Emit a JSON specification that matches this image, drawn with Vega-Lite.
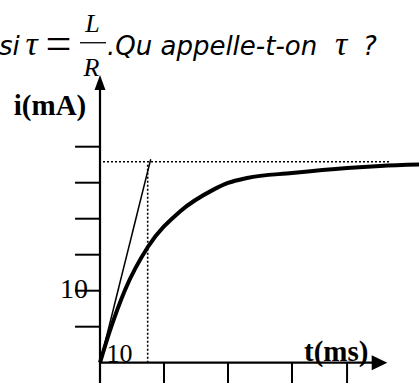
{
  "$schema": "https://vega.github.io/schema/vega-lite/v6.json",
  "width": 419,
  "height": 383,
  "padding": 0,
  "autosize": {"type": "none"},
  "background": "white",
  "config": {"view": {"stroke": null}},
  "datasets": {
    "segments": [
      {"kind": "axis", "t": 0, "i": -3, "t2": 0, "i2": 38.5},
      {"kind": "axis", "t": 0, "i": 0, "t2": 42.8, "i2": 0},
      {"kind": "tick", "t": -3.9, "i": 5, "t2": 0, "i2": 5},
      {"kind": "tick", "t": -3.9, "i": 10, "t2": 0, "i2": 10},
      {"kind": "tick", "t": -3.9, "i": 15, "t2": 0, "i2": 15},
      {"kind": "tick", "t": -3.9, "i": 20, "t2": 0, "i2": 20},
      {"kind": "tick", "t": -3.9, "i": 25, "t2": 0, "i2": 25},
      {"kind": "tick", "t": -3.9, "i": 30, "t2": 0, "i2": 30},
      {"kind": "tick", "t": 10, "i": 0, "t2": 10, "i2": -3},
      {"kind": "tick", "t": 20, "i": 0, "t2": 20, "i2": -3},
      {"kind": "tick", "t": 30, "i": 0, "t2": 30, "i2": -3},
      {"kind": "tick", "t": 38.6, "i": 0, "t2": 38.6, "i2": -3},
      {"kind": "tangent", "t": 0, "i": 0, "t2": 7.92, "i2": 28.25},
      {"kind": "dotted", "t": 0.47, "i": 27.9, "t2": 45.3, "i2": 27.9},
      {"kind": "dotted", "t": 7.45, "i": 0, "t2": 7.45, "i2": 27.7},
      {"kind": "fraction", "t": -3.125, "i": 44.44, "t2": 0.94, "i2": 44.44}
    ],
    "current": [
      {"t": 0, "i": 0},
      {"t": 1.5, "i": 4.3},
      {"t": 3.91, "i": 10.1},
      {"t": 7.5, "i": 16.1},
      {"t": 12.5, "i": 21.0},
      {"t": 17.66, "i": 24.0},
      {"t": 20.0, "i": 24.96},
      {"t": 22.97, "i": 25.65},
      {"t": 30.0, "i": 26.35},
      {"t": 38.6, "i": 27.04},
      {"t": 43.75, "i": 27.32},
      {"t": 51.0, "i": 27.55}
    ],
    "arrows": [
      {"dir": "up", "t": 0, "i": 38.92},
      {"dir": "right", "t": 43.67, "i": 0}
    ],
    "labels": [
      {"kind": "bold", "label": "i(mA)", "t": -7.81, "i": 34.4},
      {"kind": "bold", "label": "t(ms)", "t": 36.9, "i": 0.2},
      {"kind": "num", "label": "10", "t": -4.06, "i": 9.0},
      {"kind": "numx", "label": "10", "t": 3.05, "i": 0.14},
      {"kind": "sans", "label": "si", "t": -15.8, "i": 42.74},
      {"kind": "sans", "label": ".Qu appelle-t-on", "t": 1.09, "i": 42.74},
      {"kind": "sans", "label": "?", "t": 41.1, "i": 42.74},
      {"kind": "greek", "label": "τ", "t": -10.7, "i": 42.74},
      {"kind": "greek", "label": "τ", "t": 37.66, "i": 42.74},
      {"kind": "math", "label": "L", "t": -1.17, "i": 45.93},
      {"kind": "math", "label": "R", "t": -1.33, "i": 39.82},
      {"kind": "eq", "label": "=", "t": -6.48, "i": 42.18}
    ]
  },
  "encoding": {
    "x": {"field": "t", "type": "quantitative", "axis": null,
          "scale": {"domain": [-15.625, 49.84], "nice": false, "zero": false}},
    "y": {"field": "i", "type": "quantitative", "axis": null,
          "scale": {"domain": [-2.82, 50.375], "nice": false, "zero": false}}
  },
  "layer": [
    {
      "data": {"name": "segments"},
      "transform": [{"filter": "datum.kind === 'axis'"}],
      "mark": {"type": "rule", "color": "black", "strokeWidth": 2.2},
      "encoding": {"x2": {"field": "t2"}, "y2": {"field": "i2"}}
    },
    {
      "data": {"name": "segments"},
      "transform": [{"filter": "datum.kind === 'tick'"}],
      "mark": {"type": "rule", "color": "black", "strokeWidth": 2},
      "encoding": {"x2": {"field": "t2"}, "y2": {"field": "i2"}}
    },
    {
      "data": {"name": "segments"},
      "transform": [{"filter": "datum.kind === 'tangent'"}],
      "mark": {"type": "rule", "color": "black", "strokeWidth": 1.5},
      "encoding": {"x2": {"field": "t2"}, "y2": {"field": "i2"}}
    },
    {
      "data": {"name": "segments"},
      "transform": [{"filter": "datum.kind === 'dotted'"}],
      "mark": {"type": "rule", "color": "black", "strokeWidth": 1.6, "strokeDash": [2, 2]},
      "encoding": {"x2": {"field": "t2"}, "y2": {"field": "i2"}}
    },
    {
      "data": {"name": "segments"},
      "transform": [{"filter": "datum.kind === 'fraction'"}],
      "mark": {"type": "rule", "color": "black", "strokeWidth": 1.3},
      "encoding": {"x2": {"field": "t2"}, "y2": {"field": "i2"}}
    },
    {
      "data": {"name": "current"},
      "mark": {"type": "line", "color": "black", "strokeWidth": 4, "interpolate": "monotone", "clip": false}
    },
    {
      "data": {"name": "arrows"},
      "transform": [{"filter": "datum.dir === 'up'"}],
      "mark": {"type": "point", "filled": true, "color": "black", "opacity": 1,
               "shape": "M0,-1L0.73,1L-0.73,1Z", "size": 225}
    },
    {
      "data": {"name": "arrows"},
      "transform": [{"filter": "datum.dir === 'right'"}],
      "mark": {"type": "point", "filled": true, "color": "black", "opacity": 1,
               "shape": "M1,0L-1,-0.96L-1,0.96Z", "size": 243}
    },
    {
      "data": {"name": "labels"},
      "transform": [{"filter": "datum.kind === 'bold'"}],
      "mark": {"type": "text", "font": "Liberation Serif", "fontWeight": "bold", "fontSize": 29,
               "align": "center", "baseline": "alphabetic", "color": "black"},
      "encoding": {"text": {"field": "label"}}
    },
    {
      "data": {"name": "labels"},
      "transform": [{"filter": "datum.kind === 'num'"}],
      "mark": {"type": "text", "font": "Liberation Serif", "fontSize": 28,
               "align": "center", "baseline": "alphabetic", "color": "black"},
      "encoding": {"text": {"field": "label"}}
    },
    {
      "data": {"name": "labels"},
      "transform": [{"filter": "datum.kind === 'numx'"}],
      "mark": {"type": "text", "font": "Liberation Serif", "fontSize": 26,
               "align": "center", "baseline": "alphabetic", "color": "black"},
      "encoding": {"text": {"field": "label"}}
    },
    {
      "data": {"name": "labels"},
      "transform": [{"filter": "datum.kind === 'sans'"}],
      "mark": {"type": "text", "font": "DejaVu Sans", "fontStyle": "italic", "fontSize": 26,
               "align": "left", "baseline": "alphabetic", "color": "black"},
      "encoding": {"text": {"field": "label"}}
    },
    {
      "data": {"name": "labels"},
      "transform": [{"filter": "datum.kind === 'greek'"}],
      "mark": {"type": "text", "font": "Liberation Serif", "fontStyle": "italic", "fontSize": 34,
               "align": "center", "baseline": "alphabetic", "color": "black"},
      "encoding": {"text": {"field": "label"}}
    },
    {
      "data": {"name": "labels"},
      "transform": [{"filter": "datum.kind === 'math'"}],
      "mark": {"type": "text", "font": "Liberation Serif", "fontStyle": "italic", "fontSize": 26,
               "align": "center", "baseline": "alphabetic", "color": "black"},
      "encoding": {"text": {"field": "label"}}
    },
    {
      "data": {"name": "labels"},
      "transform": [{"filter": "datum.kind === 'eq'"}],
      "mark": {"type": "text", "font": "Liberation Serif", "fontSize": 46,
               "align": "center", "baseline": "alphabetic", "color": "black"},
      "encoding": {"text": {"field": "label"}}
    }
  ]
}
